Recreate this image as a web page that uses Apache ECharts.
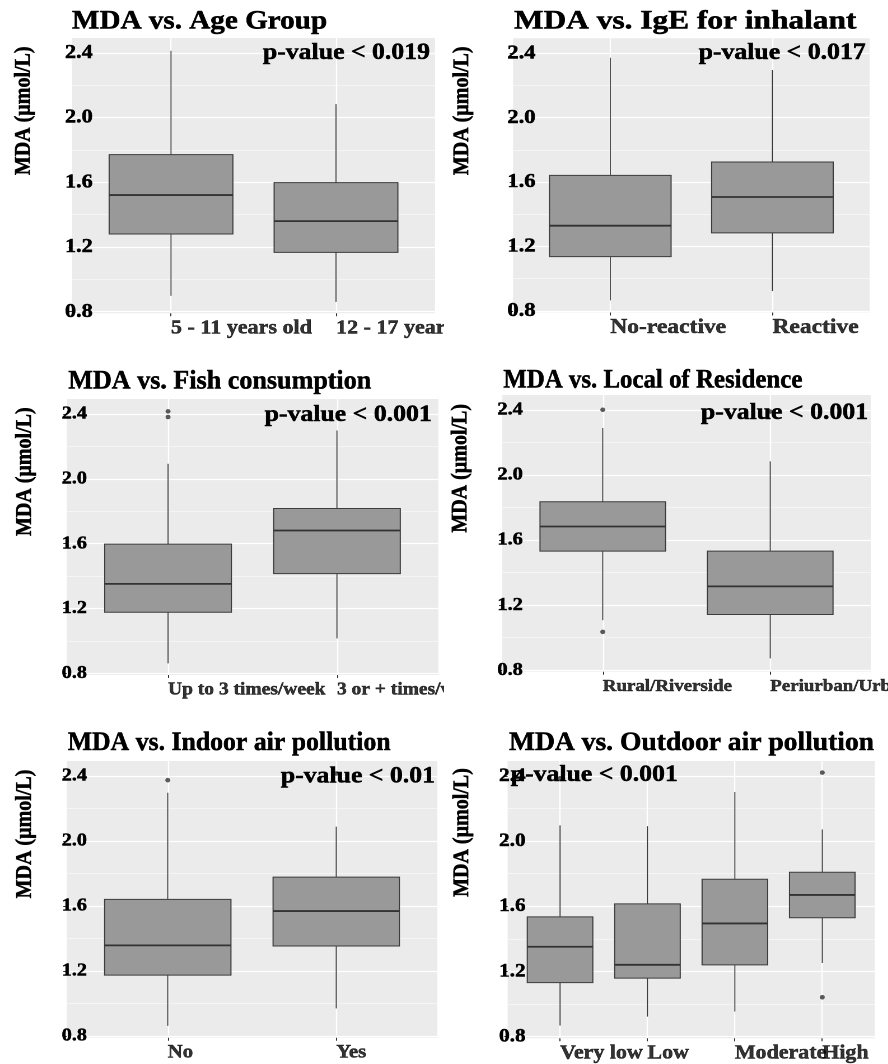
<!DOCTYPE html>
<html><head><meta charset="utf-8">
<script src="https://cdn.jsdelivr.net/npm/echarts@6/dist/echarts.min.js"></script>
<style>
html,body{margin:0;padding:0;background:#fff;width:888px;height:1064px;overflow:hidden;}
.panel{position:absolute;overflow:hidden;}
.inner{position:absolute;left:0;top:0;transform-origin:0 0;}
</style></head><body>
<script>
// ---------- DATA ----------
const titles = ['MDA vs. Age Group','MDA vs. IgE for inhalant','MDA vs. Fish consumption','MDA vs. Local of Residence','MDA vs. Indoor air pollution','MDA vs. Outdoor air pollution'];
const pValues = ['p-value < 0.019','p-value < 0.017','p-value < 0.001','p-value < 0.001','p-value < 0.01','p-value < 0.001'];
const yTitle = 'MDA (µmol/L)';
const yTicks = [0.8, 1.2, 1.6, 2.0, 2.4];
const yMinor = [1.0, 1.4, 1.8, 2.2];

// box stats: [lower whisker, Q1, median, Q3, upper whisker]
const ageCats = ['5 - 11 years old','12 - 17 years old'];
const ageBox = [[0.898,1.280,1.521,1.771,2.413],[0.861,1.167,1.360,1.598,2.083]];
const ageOut = [];

const igeCats = ['No-reactive','Reactive'];
const igeBox = [[0.865,1.137,1.329,1.641,2.371],[0.923,1.284,1.507,1.724,2.295]];
const igeOut = [];

const fishCats = ['Up to 3 times/week','3 or + times/week'];
const fishBox = [[0.862,1.177,1.352,1.597,2.093],[1.016,1.415,1.681,1.817,2.298]];
const fishOut = [[1,2.416],[1,2.381]];

const resCats = ['Rural/Riverside','Periurban/Urban'];
const resBox = [[1.107,1.532,1.683,1.835,2.289],[0.872,1.142,1.315,1.532,2.084]];
const resOut = [[1,2.401],[1,1.035],[2,2.390]];

const indoorCats = ['No','Yes'];
const indoorBox = [[0.863,1.175,1.358,1.641,2.297],[0.970,1.354,1.569,1.778,2.088]];
const indoorOut = [[1,2.374],[2,2.415]];

const outdoorCats = ['Very low','Low','Moderate','High'];
const outdoorBox = [[0.868,1.132,1.352,1.535,2.097],[0.923,1.159,1.241,1.615,2.092],[0.954,1.241,1.495,1.766,2.302],[1.252,1.530,1.670,1.809,2.072]];
const outdoorOut = [[4,2.421],[4,1.042],[1,2.386]];

// ---------- LAYOUT ----------
const S = 1.12; // horizontal stretch of the original image
const Y_MIN = 0.79, Y_MAX = 2.492;
const FONT = 'Liberation Serif';
const TITLE_FS = 26;
const layouts = [
 {off:[0,0],   h:360, grid:[72,38,435,313.3],    title:[72,22],     pval:[430,53,'right'],   ytitle:[24,110.8],  ylab:65,   tsx:1.0,   yfs:19.8, xfs:19.7},
 {off:[444,0], h:360, grid:[69,38.3,425.7,312.5],title:[70,22],     pval:[421.7,53.3,'right'],ytitle:[18.3,110.8],ylab:63.3, tsx:1.077, yfs:20.2, xfs:21},
 {off:[0,360], h:360, grid:[66.7,39,438.3,315],  title:[68.3,21.7], pval:[431.7,55,'right'], ytitle:[25,111.7],  ylab:61.7, tsx:0.896, yfs:18,   xfs:17.4},
 {off:[444,360],h:360,grid:[58.3,35,426.7,311.7],title:[59.3,20.7], pval:[424,53.3,'right'], ytitle:[16.7,108.3],ylab:53.3, tsx:0.854, yfs:18.3, xfs:16.9},
 {off:[0,720], h:344, grid:[66.7,41,437.3,317.7],title:[67.7,23.3], pval:[435,56.7,'right'], ytitle:[25,114],    ylab:61.7, tsx:0.885, yfs:18,   xfs:18.5},
 {off:[444,720],h:344,grid:[63.6,41,430.7,318.3],title:[65,23.3],   pval:[66.7,55,'left'],   ytitle:[18.3,112.5],ylab:55,   tsx:0.946, yfs:19,   xfs:19.6}
];
const datasets = [
 [ageCats, ageBox, ageOut],
 [igeCats, igeBox, igeOut],
 [fishCats, fishBox, fishOut],
 [resCats, resBox, resOut],
 [indoorCats, indoorBox, indoorOut],
 [outdoorCats, outdoorBox, outdoorOut]
];
const BORDER = 0.5; // slight thickening to match the heavy bold text

function renderBox(params, api){
  const x = api.value(0);
  const pLo = api.coord([x, api.value(1)]);
  const pQ1 = api.coord([x, api.value(2)]);
  const pMed = api.coord([x, api.value(3)]);
  const pQ3 = api.coord([x, api.value(4)]);
  const pHi = api.coord([x, api.value(5)]);
  const w = api.size([0.75, 0])[0];
  const cx = pQ1[0];
  return {type:'group', children:[
    {type:'line', shape:{x1:cx,y1:pHi[1],x2:cx,y2:pQ3[1]}, style:{stroke:'#333333',lineWidth:0.9}},
    {type:'line', shape:{x1:cx,y1:pQ1[1],x2:cx,y2:pLo[1]}, style:{stroke:'#333333',lineWidth:0.9}},
    {type:'rect', shape:{x:cx-w/2,y:pQ3[1],width:w,height:pQ1[1]-pQ3[1]}, style:{fill:'#999999',stroke:'#3c3c3c',lineWidth:1}},
    {type:'line', shape:{x1:cx-w/2,y1:pMed[1],x2:cx+w/2,y2:pMed[1]}, style:{stroke:'#333333',lineWidth:1.8}}
  ]};
}

layouts.forEach((L, i) => {
  const [cats, box, outs] = datasets[i];
  const n = cats.length;
  const xt = cats.map((c, k) => k + 1);
  const outer = document.createElement('div');
  outer.className = 'panel';
  outer.style.left = L.off[0] + 'px';
  outer.style.top = L.off[1] + 'px';
  outer.style.width = '444px';
  outer.style.height = L.h + 'px';
  const inner = document.createElement('div');
  inner.className = 'inner';
  inner.style.width = (444 / S) + 'px';
  inner.style.height = L.h + 'px';
  inner.style.transform = 'scaleX(' + S + ')';
  outer.appendChild(inner);
  document.body.appendChild(outer);
  const chart = echarts.init(inner, null, {renderer:'canvas', devicePixelRatio:2});
  const g = L.grid;
  const gl = g[0] / S;
  const txt = (text, x, y, size, align, extra) => Object.assign({
    type:'text', x:x, y:y, z:100,
    style:{text:text, fill:'#000', fontFamily:FONT, fontSize:size, fontWeight:'bold',
      align:align, verticalAlign:'middle', stroke:'#000', lineWidth:BORDER}
  }, extra || {});
  const option = {
    animation:false,
    grid:{left:gl, top:g[1], width:(g[2]-g[0])/S, height:g[3]-g[1], show:true,
      backgroundColor:'#EBEBEB', borderWidth:0, containLabel:false, outerBoundsMode:'none'},
    xAxis:{type:'value', min:0.4, max:n+0.6,
      axisLine:{show:false},
      axisTick:{show:true, customValues:xt, length:3, lineStyle:{color:'#333333', width:1}},
      axisLabel:{show:false, customValues:xt},
      splitLine:{show:true, lineStyle:{color:'#ffffff', width:1.2}}},
    yAxis:[
      {type:'value', min:Y_MIN, max:Y_MAX,
        axisLine:{show:false},
        axisTick:{show:true, customValues:yTicks, length:3, lineStyle:{color:'#333333', width:1}},
        axisLabel:{show:true, customValues:yTicks, interval:0, hideOverlap:false,
          formatter:(v)=>v.toFixed(1),
          align:'left', verticalAlign:'middle', margin:(g[0]-L.ylab)/S, color:'#000',
          textBorderColor:'#000', textBorderWidth:BORDER,
          fontFamily:FONT, fontSize:L.yfs, fontWeight:'bold'},
        splitLine:{show:true, lineStyle:{color:'#ffffff', width:1.2}}},
      {type:'value', min:Y_MIN, max:Y_MAX, position:'left',
        axisLine:{show:false},
        axisTick:{show:false, customValues:yMinor},
        axisLabel:{show:false, customValues:yMinor},
        splitLine:{show:true, lineStyle:{color:'#ffffff', width:0.6}}}
    ],
    series:[
      {type:'custom', xAxisIndex:0, yAxisIndex:0, renderItem:renderBox,
        encode:{x:0, y:[1,2,3,4,5]},
        data: box.map((b, k) => [k + 1].concat(b)), z:3},
      {type:'scatter', xAxisIndex:0, yAxisIndex:0, symbol:'circle', symbolSize:4.5,
        itemStyle:{color:'#333333'}, data:outs, z:4},
      // category labels under the axis, left-aligned at each category position
      {type:'scatter', xAxisIndex:0, yAxisIndex:0, symbolSize:0, silent:true, clip:false,
        data: cats.map((c, k) => [k + 1, Y_MIN, c]),
        label:{show:true, position:[0, 15], formatter:(p)=>p.value[2],
          align:'left', verticalAlign:'middle', color:'#000',
          textBorderColor:'#000', textBorderWidth:BORDER,
          fontFamily:FONT, fontSize:L.xfs, fontWeight:'bold'},
        labelLayout:{hideOverlap:false}, z:5}
    ],
    graphic:[
      txt(titles[i], L.title[0]/S, L.title[1], TITLE_FS, 'left', {scaleX:L.tsx}),
      txt(pValues[i], L.pval[0]/S, L.pval[1], 23, L.pval[2]),
      txt(yTitle, L.ytitle[0]/S, L.ytitle[1], 20, 'center', {rotation:Math.PI/2})
    ]
  };
  chart.setOption(option);
});
</script>
</body></html>
